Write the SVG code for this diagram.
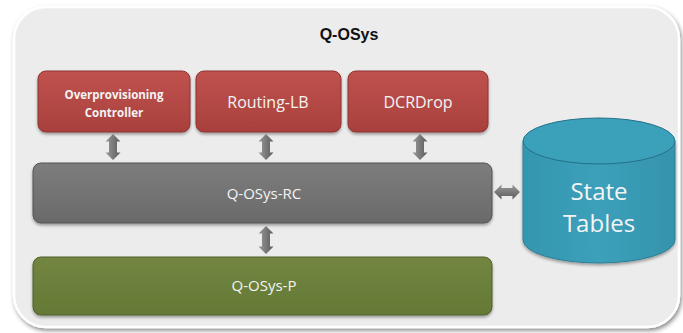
<svg xmlns="http://www.w3.org/2000/svg" width="683" height="333" viewBox="0 0 683 333">
<defs>
<linearGradient id="gRed" x1="0" y1="0" x2="0" y2="1"><stop offset="0" stop-color="#c0524e"/><stop offset="1" stop-color="#a8403c"/></linearGradient>
<linearGradient id="gGray" x1="0" y1="0" x2="0" y2="1"><stop offset="0" stop-color="#7d7d7d"/><stop offset="1" stop-color="#6a6a6a"/></linearGradient>
<linearGradient id="gGreen" x1="0" y1="0" x2="0" y2="1"><stop offset="0" stop-color="#728640"/><stop offset="1" stop-color="#647936"/></linearGradient>
<linearGradient id="gCyl" x1="0" y1="0" x2="1" y2="0"><stop offset="0" stop-color="#3596b0"/><stop offset="0.5" stop-color="#3ca0ba"/><stop offset="1" stop-color="#3593ad"/></linearGradient>
<linearGradient id="gArr" x1="0" y1="0" x2="1" y2="0"><stop offset="0" stop-color="#9a9a9a"/><stop offset="1" stop-color="#5a5a5a"/></linearGradient>
<linearGradient id="gArrH" x1="0" y1="0" x2="0" y2="1"><stop offset="0" stop-color="#9a9a9a"/><stop offset="1" stop-color="#5a5a5a"/></linearGradient>
<filter id="sh" x="-10%" y="-10%" width="120%" height="130%"><feDropShadow dx="0" dy="2" stdDeviation="1.5" flood-color="#000" flood-opacity="0.35"/></filter>
<filter id="shO" x="-5%" y="-5%" width="110%" height="115%"><feDropShadow dx="1.5" dy="2.5" stdDeviation="2" flood-color="#000" flood-opacity="0.45"/></filter>
</defs>
<style>
.t{font-family:"Open Sans","Noto Sans",sans-serif;fill:#f4f4f4;text-anchor:middle}
</style>
<g id="container">
<rect x="14" y="7" width="665" height="320" rx="32" fill="#ececec" stroke="#ffffff" stroke-width="2.5" filter="url(#shO)"/>
<text x="349" y="40" font-family="Liberation Sans, Arial, sans-serif" font-weight="bold" font-size="16" text-anchor="middle" fill="#111">Q-OSys</text>
</g>
<g id="overprov">
<rect x="38" y="71" width="152" height="61" rx="8" fill="url(#gRed)" stroke="#8e3431" filter="url(#sh)"/>
<text class="t" x="114" y="99" font-size="11.5" font-weight="bold">Overprovisioning</text>
<text class="t" x="114" y="117" font-size="11.5" font-weight="bold">Controller</text>
</g>
<g id="routing">
<rect x="196" y="71" width="145" height="61" rx="8" fill="url(#gRed)" stroke="#8e3431" filter="url(#sh)"/>
<text class="t" x="268" y="108" font-size="16">Routing-LB</text>
</g>
<g id="dcrdrop">
<rect x="348" y="71" width="140" height="61" rx="8" fill="url(#gRed)" stroke="#8e3431" filter="url(#sh)"/>
<text class="t" x="418" y="108" font-size="16">DCRDrop</text>
</g>
<g id="rc">
<rect x="33" y="163" width="459" height="60" rx="8" fill="url(#gGray)" stroke="#555" filter="url(#sh)"/>
<text class="t" x="264" y="199" font-size="15">Q-OSys-RC</text>
</g>
<g id="p">
<rect x="33" y="257" width="459" height="58" rx="8" fill="url(#gGreen)" stroke="#506128" filter="url(#sh)"/>
<text class="t" x="264" y="291" font-size="15">Q-OSys-P</text>
</g>
<g id="state">
<path d="M523,141 L523,240 A76,23 0 0 0 675,240 L675,141 Z" fill="url(#gCyl)" stroke="#2c7e95" filter="url(#sh)"/>
<ellipse cx="599" cy="141" rx="76" ry="23" fill="#3ba0b9" stroke="#25708a"/>
<text class="t" x="599" y="200" font-size="24">State</text>
<text class="t" x="599" y="232" font-size="24">Tables</text>
</g>
<g id="connectors">
<path d="M113,134 l7.5,7.5 h-3.5 v11 h3.5 l-7.5,7.5 l-7.5,-7.5 h3.5 v-11 h-3.5 Z" fill="url(#gArr)"/>
<path d="M266,134 l7.5,7.5 h-3.5 v11 h3.5 l-7.5,7.5 l-7.5,-7.5 h3.5 v-11 h-3.5 Z" fill="url(#gArr)"/>
<path d="M420,134 l7.5,7.5 h-3.5 v11 h3.5 l-7.5,7.5 l-7.5,-7.5 h3.5 v-11 h-3.5 Z" fill="url(#gArr)"/>
<path d="M266,226 l7.5,7.5 h-3.5 v13 h3.5 l-7.5,7.5 l-7.5,-7.5 h3.5 v-13 h-3.5 Z" fill="url(#gArr)"/>
<path d="M494,192 l7.5,-7.5 v3.5 h11 v-3.5 l7.5,7.5 l-7.5,7.5 v-3.5 h-11 v3.5 Z" fill="url(#gArrH)"/>
</g>
</svg>
